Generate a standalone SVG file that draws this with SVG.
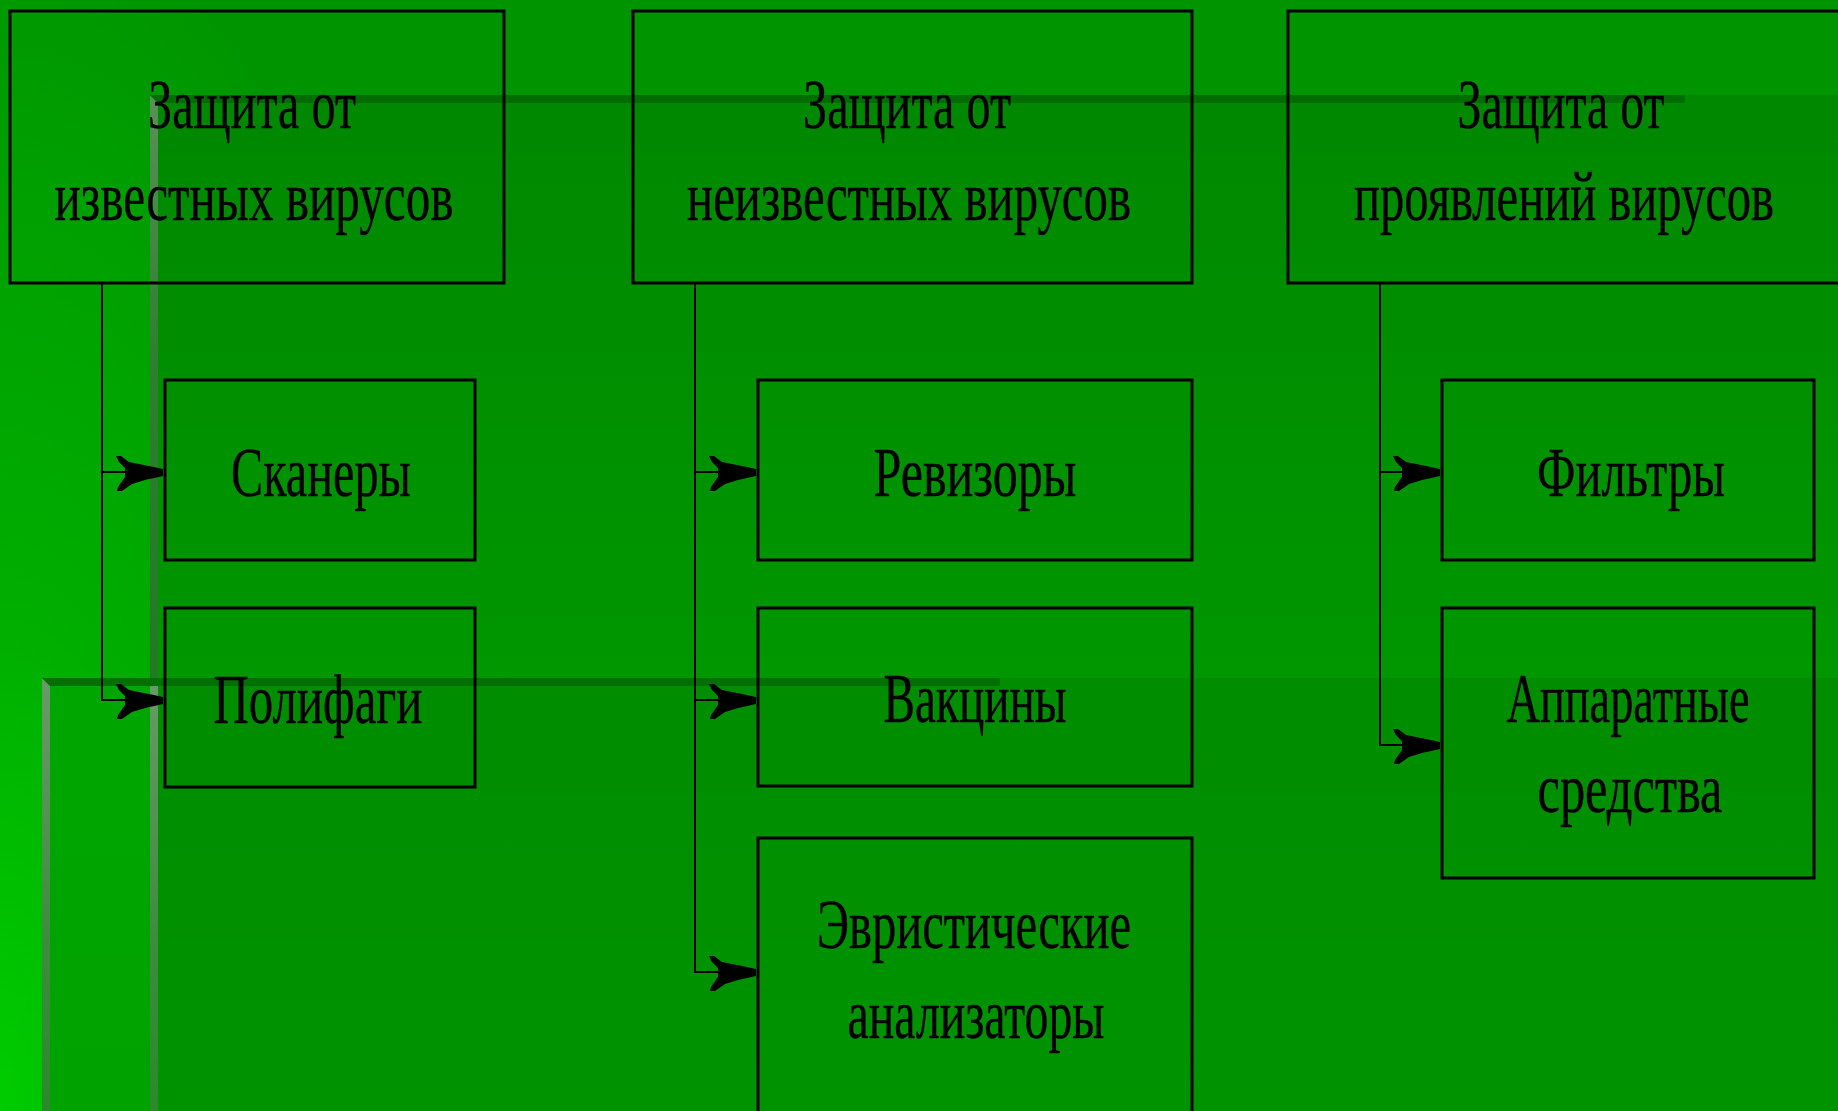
<svg xmlns="http://www.w3.org/2000/svg" width="1838" height="1111" viewBox="0 0 1838 1111">
  <defs>
    <radialGradient id="bg" gradientUnits="userSpaceOnUse" cx="0" cy="0" r="1" gradientTransform="translate(0,1111) scale(500,1250)">
      <stop offset="0" stop-color="#00cc00"/>
      <stop offset="0.4" stop-color="#00ae00"/>
      <stop offset="1" stop-color="#009400"/>
    </radialGradient>
    <linearGradient id="panelA" x1="0" y1="0" x2="0" y2="1">
      <stop offset="0" stop-color="#008800"/>
      <stop offset="1" stop-color="#009700"/>
    </linearGradient>
    <linearGradient id="panelBL" x1="0" y1="0" x2="0" y2="1">
      <stop offset="0" stop-color="#00a600"/>
      <stop offset="1" stop-color="#00a200"/>
    </linearGradient>
    <linearGradient id="panelBR" x1="0" y1="0" x2="0" y2="1">
      <stop offset="0" stop-color="#008d00"/>
      <stop offset="1" stop-color="#009300"/>
    </linearGradient>
    <linearGradient id="stripA" x1="0" y1="0" x2="0" y2="1">
      <stop offset="0" stop-color="#5a915a"/>
      <stop offset="0.45" stop-color="#2f7f2f"/>
      <stop offset="1" stop-color="#237a23"/>
    </linearGradient>
    <linearGradient id="stripB" x1="0" y1="0" x2="0" y2="1">
      <stop offset="0" stop-color="#6a9a6a"/>
      <stop offset="0.6" stop-color="#3e8c3e"/>
      <stop offset="1" stop-color="#2a8a2a"/>
    </linearGradient>
    <marker id="arrow" markerUnits="userSpaceOnUse" orient="auto" refX="0" refY="0" markerWidth="60" markerHeight="40" overflow="visible">
      <path d="M0,-3 L-14,-6 L-24,-8 L-34,-10 L-42,-16 L-47,-16 L-44,-10 L-38,-4 L-38,5 L-45,15 L-46,19 L-41,19 L-31,12 L-18,8 L0,4 Z" fill="#000"/>
    </marker>
    <style>
      .box { fill: none; stroke: #000; stroke-width: 3; }
      .conn { fill: none; stroke: #000; stroke-width: 2; marker-end: url(#arrow); }
      .lbl { font-family: "Liberation Serif", "Times New Roman", serif; font-size: 70px; fill: #000; stroke: #000; stroke-width: 0.4; text-anchor: middle; }
    </style>
  </defs>

  <g id="background">
    <rect x="0" y="0" width="1838" height="1111" fill="url(#bg)"/>
    <rect x="150" y="95" width="1688" height="583" fill="url(#panelA)"/>
    <rect x="42" y="678" width="108" height="433" fill="url(#panelBL)"/>
    <rect x="150" y="678" width="1688" height="433" fill="url(#panelBR)"/>
    <polygon points="150,95 158,103 158,678 150,678" fill="url(#stripA)"/>
    <polygon points="150,95 1685,95 1685,103 158,103" fill="#006d00"/>
    <polygon points="42,678 50,686 50,1111 42,1111" fill="url(#stripB)"/>
    <polygon points="150,678 158,686 158,1111 150,1111" fill="url(#stripB)"/>
    <polygon points="42,678 1000,678 1000,686 50,686" fill="#007000"/>
  </g>

  <g id="connectors">
    <path class="conn" d="M102,283 V472 H163"/>
    <path class="conn" d="M102,283 V700 H163"/>
    <path class="conn" d="M695,283 V472 H756"/>
    <path class="conn" d="M695,283 V700 H756"/>
    <path class="conn" d="M695,283 V972 H756"/>
    <path class="conn" d="M1380,283 V472 H1440"/>
    <path class="conn" d="M1380,283 V745 H1440"/>
  </g>

  <g id="known">
    <rect class="box" x="10" y="11" width="494" height="272"/>
    <text class="lbl" x="252" y="128" textLength="208" lengthAdjust="spacingAndGlyphs">Защита от</text>
    <text class="lbl" x="254" y="220" textLength="399" lengthAdjust="spacingAndGlyphs">известных вирусов</text>
  </g>
  <g id="unknown">
    <rect class="box" x="633" y="11" width="559" height="272"/>
    <text class="lbl" x="907" y="128" textLength="208" lengthAdjust="spacingAndGlyphs">Защита от</text>
    <text class="lbl" x="909" y="220" textLength="444" lengthAdjust="spacingAndGlyphs">неизвестных вирусов</text>
  </g>
  <g id="manifest">
    <rect class="box" x="1288" y="11" width="560" height="272"/>
    <text class="lbl" x="1561" y="128" textLength="207" lengthAdjust="spacingAndGlyphs">Защита от</text>
    <text class="lbl" x="1564" y="220" textLength="420" lengthAdjust="spacingAndGlyphs">проявлений вирусов</text>
  </g>

  <g id="scanners">
    <rect class="box" x="165" y="380" width="310" height="180"/>
    <text class="lbl" x="321" y="496" textLength="180" lengthAdjust="spacingAndGlyphs">Сканеры</text>
  </g>
  <g id="polyphages">
    <rect class="box" x="165" y="608" width="310" height="179"/>
    <text class="lbl" x="318" y="723" textLength="209" lengthAdjust="spacingAndGlyphs">Полифаги</text>
  </g>
  <g id="auditors">
    <rect class="box" x="758" y="380" width="434" height="180"/>
    <text class="lbl" x="975" y="496" textLength="203" lengthAdjust="spacingAndGlyphs">Ревизоры</text>
  </g>
  <g id="vaccines">
    <rect class="box" x="758" y="608" width="434" height="178"/>
    <text class="lbl" x="975" y="722" textLength="183" lengthAdjust="spacingAndGlyphs">Вакцины</text>
  </g>
  <g id="heuristic">
    <rect class="box" x="758" y="838" width="434" height="300"/>
    <text class="lbl" x="974" y="948" textLength="314" lengthAdjust="spacingAndGlyphs">Эвристические</text>
    <text class="lbl" x="976" y="1038" textLength="257" lengthAdjust="spacingAndGlyphs">анализаторы</text>
  </g>
  <g id="filters">
    <rect class="box" x="1442" y="380" width="372" height="180"/>
    <text class="lbl" x="1631" y="496" textLength="188" lengthAdjust="spacingAndGlyphs">Фильтры</text>
  </g>
  <g id="hardware">
    <rect class="box" x="1442" y="608" width="372" height="270"/>
    <text class="lbl" x="1628" y="722" textLength="243" lengthAdjust="spacingAndGlyphs">Аппаратные</text>
    <text class="lbl" x="1630" y="812" textLength="185" lengthAdjust="spacingAndGlyphs">средства</text>
  </g>
</svg>
